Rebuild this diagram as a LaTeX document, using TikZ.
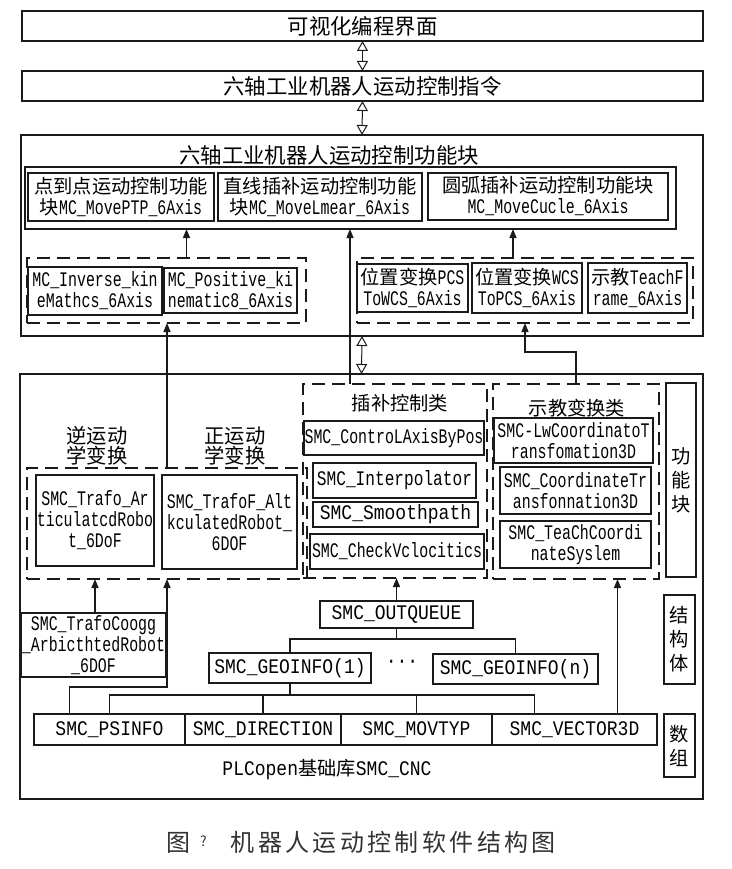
\documentclass[tikz,border=0pt]{standalone}
\usepackage{fontspec}
\setmainfont{Liberation Mono}[Scale=1.15, FakeStretch=0.72]
\newfontfamily\widefont{Liberation Mono}[Scale=1.15, FakeStretch=0.87]
\newfontfamily\midfont{Liberation Mono}[Scale=1.15, FakeStretch=0.78]
\newfontfamily\zhfont{Noto Sans CJK SC}[Scale=1.07]
\newfontfamily\capfont{Noto Sans CJK SC}[LetterSpace=14]
\newcommand{\zh}[1]{{\zhfont #1}}
\usetikzlibrary{arrows.meta, positioning, calc}
\definecolor{inkgray}{HTML}{1A1A1A}
\definecolor{capgray}{HTML}{333333}
\newcommand{\blk}[7][unitbox]{%
  \node[#1, minimum width={#5-#3}, minimum height={#6-#4}]
    (#2) at ({(#3+#5)/2},{(#4+#6)/2}) {#7};%
}
\tikzset{
  unitbox/.style={draw=inkgray, line width=1.5pt, inner sep=0pt, outer sep=0pt, align=center},
  grpbox/.style={draw=inkgray, line width=1.4pt, dash pattern=on 13pt off 7pt, inner sep=0pt, outer sep=0pt},
  linkarrow/.style={draw=inkgray, line width=1.3pt, -{Triangle[length=9pt,width=7pt]}},
  wire/.style={draw=inkgray, line width=1.3pt},
  dblarrow/.style={draw=inkgray, line width=1pt,
    {Triangle[open,length=10pt,width=11pt]}-{Triangle[open,length=10pt,width=11pt]}},
  headfont/.style={font=\fontsize{20}{22}\selectfont},
  sublabel/.style={font=\fontsize{19}{20}\selectfont, align=center},
  widetext/.style={font=\widefont\fontsize{18}{21}\selectfont},
  midtext/.style={font=\midfont\fontsize{18}{21}\selectfont},
  vlabel/.style={font=\fontsize{18}{24}\selectfont}
}

\begin{document}
\begin{tikzpicture}[x=1pt, y=-1pt, font=\fontsize{18}{21}\selectfont]
\useasboundingbox[fill=white] (0,0) rectangle (731,869);

% upper layers
\blk[unitbox,headfont]{ui}{22}{11}{703}{41}{\zh{可视化编程界面}}
\blk[unitbox,headfont]{cmd}{22}{71}{703}{101}{\zh{六轴工业机器人运动控制指令}}

% function block layer
\blk{fb}{21}{135}{703}{336}{}
\node[headfont] (fbtitle) at (329,155) {\zh{六轴工业机器人运动控制功能块}};
\blk{mvrow}{25}{167}{676}{229}{}
\blk{ptp}{28}{173}{214}{221}{\zh{点到点运动控制功能}\\\zh{块}MC\_MovePTP\_6Axis}
\blk{lin}{218}{173}{422}{221}{\zh{直线插补运动控制功能}\\\zh{块}MC\_MoveLmear\_6Axis}
\blk{circ}{428}{173}{668}{220}{\zh{圆弧插补运动控制功能块}\\MC\_MoveCucle\_6Axis}
\blk[grpbox]{kingrp}{27}{258}{306}{323}{}
\blk{inv}{28}{267}{162}{315}{MC\_Inverse\_kin\\eMathcs\_6Axis}
\blk{pos}{164}{268}{297}{313}{MC\_Positive\_ki\\nematic8\_6Axis}
\blk[grpbox]{trgrp}{357}{258}{693}{323}{}
\blk{pcs}{357}{264}{468}{312}{\zh{位置变换}PCS\\ToWCS\_6Axis}
\blk{wcs}{472}{263}{582}{313}{\zh{位置变换}WCS\\ToPCS\_6Axis}
\blk{teach}{588}{263}{687}{313}{\zh{示教}TeachF\\rame\_6Axis}

% base library layer
\blk{lib}{20}{374}{703}{799}{}
\blk[unitbox,vlabel]{fnlab}{666}{383}{696}{577}{\zh{功}\\\zh{能}\\\zh{块}}
\blk[unitbox,vlabel]{stlab}{664}{595}{695}{684}{\zh{结}\\\zh{构}\\\zh{体}}
\blk[unitbox,vlabel]{arlab}{664}{714}{695}{777}{\zh{数}\\\zh{组}}
\node[sublabel] (invlab) at (97,446) {\zh{逆运动}\\\zh{学变换}};
\node[sublabel] (fwdlab) at (235,446) {\zh{正运动}\\\zh{学变换}};
\blk[grpbox]{kgrp}{27}{468}{307}{579}{}
\blk{trinv}{36}{475}{154}{566}{SMC\_Trafo\_Ar\\ticulatcdRobo\\t\_6DoF}
\blk{trfwd}{162}{475}{297}{569}{SMC\_TrafoF\_Alt\\kculatedRobot\_\\6DOF}
\blk[grpbox]{ipgrp}{303}{384}{487}{578}{}
\node (iptitle) at (400,403) {\zh{插补控制类}};
\blk{ctl}{304}{421}{484}{455}{SMC\_ControLAxisByPos}
\blk[unitbox,midtext]{itp}{313}{463}{476}{498}{SMC\_Interpolator}
\blk[unitbox,widetext]{smo}{313}{502}{478}{527}{SMC\_Smoothpath}
\blk{chk}{310}{534}{484}{569}{SMC\_CheckVclocitics}
\blk[grpbox]{tcgrp}{493}{384}{659}{579}{}
\node (tctitle) at (577,408) {\zh{示教变换类}};
\blk{lw}{494}{418}{653}{463}{SMC-LwCoordinatoT\\ransfomation3D}
\blk{crd}{500}{467}{651}{514}{SMC\_CoordinateTr\\ansfonnation3D}
\blk{tch}{500}{521}{651}{568}{SMC\_TeaChCoordi\\nateSyslem}
\blk{coogg}{21}{613}{166}{677}{SMC\_TrafoCoogg\\\_ArbicthtedRobot\\\_6DOF}
\blk[unitbox,widetext]{outq}{320}{601}{473}{628}{SMC\_OUTQUEUE}
\blk[unitbox,widetext]{geo1}{209}{653}{371}{683}{SMC\_GEOINFO(1)}
\node[widetext] (dots) at (402,664) {···};
\blk[unitbox,widetext]{geon}{433}{654}{598}{684}{SMC\_GEOINFO(n)}
\blk[unitbox,widetext]{psinfo}{34}{714}{185}{745}{SMC\_PSINFO}
\blk[unitbox,widetext]{dir}{185}{714}{341}{745}{SMC\_DIRECTION}
\blk[unitbox,widetext]{movtyp}{341}{714}{492}{745}{SMC\_MOVTYP}
\blk[unitbox,widetext]{vec}{492}{714}{657}{745}{SMC\_VECTOR3D}
\node[widetext] (cnclab) at (327,770) {PLCopen\zh{基础库}SMC\_CNC};

% layer links
\draw[dblarrow] (ui.south) -- (cmd.north);
\draw[dblarrow] (cmd.south) -- (fb.north);
\draw[dblarrow] (fb.south) -- (lib.north);

% links into the motion blocks
\coordinate (kup) at ([xshift=20pt]kingrp.north);
\draw[linkarrow] (kup) -- (kup |- mvrow.south);
\coordinate (tup) at ([xshift=-12pt]trgrp.north);
\draw[linkarrow] (tup) -- (tup |- mvrow.south);
\coordinate (iup) at ([xshift=-45pt]ipgrp.north);
\draw[linkarrow] (iup) -- (iup |- mvrow.south);
\draw[linkarrow] (kgrp.north) -- (kgrp.north |- kingrp.south);
\draw[linkarrow] (tcgrp.north) |- ($(trgrp.south)!.57!(trgrp.south |- lib.north)$) -- (trgrp.south);

% links inside the library
\draw[linkarrow] (trinv.south |- coogg.north) -- (trinv.south |- kgrp.south);
\path (coogg.south -| kgrp.south) ++(0,10) coordinate (bend);
\draw[linkarrow] ([xshift=-40pt]psinfo.north) |- (bend) -- (kgrp.south);
\draw[linkarrow] (outq.north) -- (outq.north |- ipgrp.south);
\path (outq.south) ++(0,11) coordinate (split);
\draw[wire] (outq.south) -- (split);
\draw[wire] (geo1.north) |- (split) -| (geon.north);
\path (geo1.south) ++(0,12) coordinate (bus);
\coordinate (vtap) at ([xshift=-40pt]vec.north);
\draw[wire] (geo1.south) -- (bus);
\draw[wire] (psinfo.north) |- (bus) -| (vtap);
\draw[wire] (dir.north) -- (dir.north |- bus);
\draw[wire] (movtyp.north) -- (movtyp.north |- bus);
\coordinate (vup) at ([xshift=43pt]vec.north);
\draw[linkarrow] (vup) -- (vup |- tcgrp.south);

% caption
\node[text=capgray, font=\capfont\fontsize{24}{26}\selectfont] (caption) at (361,842)
  {图\hspace{10pt}\raisebox{5pt}{\fontsize{14}{14}\selectfont ?}\hspace{24pt}机器人运动控制软件结构图};
\end{tikzpicture}
\end{document}
